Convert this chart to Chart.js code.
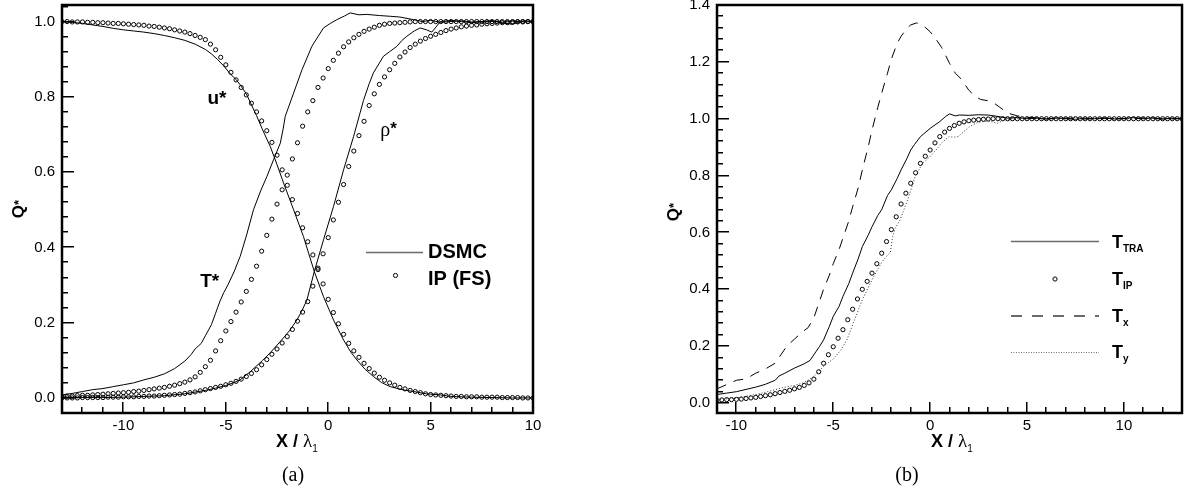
<!DOCTYPE html>
<html>
<head>
<meta charset="utf-8">
<script src="https://cdn.jsdelivr.net/npm/chart.js@4.4.0/dist/chart.umd.min.js"></script>
<style>
    html, body { margin: 0; padding: 0; background: #fff; }
    #wrap { position: relative; width: 1187px; height: 488px; overflow: hidden; }
    canvas { position: absolute; top: 0; }
    #left { left: 0; }
    #right { left: 590px; }
</style>
</head>
<body>
<div id="wrap">
    <canvas id="left" width="560" height="488" style="width:560px;height:488px"></canvas>
    <canvas id="right" width="597" height="488" style="width:597px;height:488px"></canvas>
</div>
<script>
"use strict";

/* ---------- panel (a) ---------- */
var aXTicks = [-10, -5, 0, 5, 10];
var aYTicks = [0, 0.2, 0.4, 0.6, 0.8, 1.0];

// IP (FS) sample positions and values
var aIpX = [
    -13, -12.75, -12.5, -12.25, -12, -11.75, -11.5, -11.25, -11, -10.75, -10.5, -10.25,
    -10, -9.75, -9.5, -9.25, -9, -8.75, -8.5, -8.25, -8, -7.75, -7.5, -7.25,
    -7, -6.75, -6.5, -6.25, -6, -5.75, -5.5, -5.25, -5, -4.75, -4.5, -4.25,
    -4, -3.75, -3.5, -3.25, -3, -2.75, -2.5, -2.25, -2, -1.75, -1.5, -1.25,
    -1, -0.75, -0.5, -0.25, 0, 0.25, 0.5, 0.75, 1, 1.25, 1.5, 1.75,
    2, 2.25, 2.5, 2.75, 3, 3.25, 3.5, 3.75, 4, 4.25, 4.5, 4.75,
    5, 5.25, 5.5, 5.75, 6, 6.25, 6.5, 6.75, 7, 7.25, 7.5, 7.75,
    8, 8.25, 8.5, 8.75, 9, 9.25, 9.5, 9.75, 10
];
var aIpU = [
    1.000, 1.000, 0.999, 0.999, 0.999, 0.998, 0.998, 0.997, 0.997, 0.996, 0.995, 0.995,
    0.994, 0.993, 0.992, 0.991, 0.990, 0.988, 0.987, 0.985, 0.983, 0.981, 0.978, 0.975,
    0.972, 0.968, 0.963, 0.958, 0.952, 0.940, 0.925, 0.905, 0.885, 0.865, 0.845, 0.825,
    0.805, 0.783, 0.760, 0.736, 0.710, 0.679, 0.645, 0.606, 0.565, 0.527, 0.490, 0.452,
    0.415, 0.380, 0.345, 0.303, 0.262, 0.227, 0.197, 0.169, 0.145, 0.125, 0.108, 0.092,
    0.078, 0.066, 0.055, 0.047, 0.040, 0.034, 0.028, 0.024, 0.020, 0.017, 0.014, 0.011,
    0.009, 0.008, 0.007, 0.006, 0.005, 0.004, 0.004, 0.003, 0.003, 0.003, 0.002, 0.002,
    0.002, 0.002, 0.001, 0.001, 0.001, 0.001, 0.000, 0.000, 0.000
];
var aIpT = [
    0.004, 0.005, 0.005, 0.006, 0.007, 0.007, 0.008, 0.009, 0.010, 0.011, 0.012, 0.013,
    0.014, 0.015, 0.017, 0.018, 0.020, 0.022, 0.024, 0.026, 0.028, 0.031, 0.034, 0.038,
    0.042, 0.048, 0.056, 0.068, 0.083, 0.100, 0.125, 0.152, 0.178, 0.203, 0.228, 0.255,
    0.283, 0.315, 0.350, 0.390, 0.432, 0.475, 0.515, 0.553, 0.592, 0.635, 0.678, 0.722,
    0.760, 0.790, 0.825, 0.850, 0.875, 0.897, 0.916, 0.933, 0.946, 0.957, 0.966, 0.974,
    0.980, 0.985, 0.990, 0.993, 0.995, 0.996, 0.997, 0.998, 0.999, 1.000, 1.000, 1.000,
    1.000, 1.000, 1.000, 1.000, 1.000, 1.000, 1.000, 1.000, 1.000, 1.000, 1.000, 1.000,
    1.000, 1.000, 1.000, 1.000, 1.000, 1.000, 1.000, 1.000, 1.000
];
var aIpRho = [
    0.000, 0.000, 0.000, 0.000, 0.001, 0.001, 0.001, 0.001, 0.001, 0.002, 0.002, 0.002,
    0.003, 0.003, 0.003, 0.004, 0.004, 0.005, 0.005, 0.006, 0.007, 0.008, 0.009, 0.010,
    0.012, 0.014, 0.016, 0.019, 0.022, 0.025, 0.028, 0.031, 0.035, 0.039, 0.044, 0.050,
    0.057, 0.065, 0.075, 0.088, 0.102, 0.116, 0.130, 0.146, 0.163, 0.182, 0.204, 0.228,
    0.256, 0.297, 0.341, 0.383, 0.426, 0.473, 0.520, 0.567, 0.615, 0.656, 0.697, 0.735,
    0.777, 0.808, 0.833, 0.853, 0.872, 0.889, 0.906, 0.919, 0.931, 0.940, 0.948, 0.955,
    0.961, 0.966, 0.971, 0.976, 0.980, 0.983, 0.986, 0.988, 0.990, 0.991, 0.993, 0.994,
    0.995, 0.996, 0.997, 0.997, 0.998, 0.999, 0.999, 1.000, 1.000
];

// DSMC curves, [x, value]
var aDsmcU = [
    [-13, 1.0], [-12.5, 0.998], [-12, 0.995], [-11.5, 0.991], [-11, 0.987], [-10.5, 0.982],
    [-10, 0.978], [-9.5, 0.975], [-9, 0.972], [-8.5, 0.968], [-8, 0.963], [-7.5, 0.957],
    [-7, 0.950], [-6.5, 0.940], [-6, 0.926], [-5.7, 0.914], [-5.4, 0.899], [-5.1, 0.882],
    [-4.8, 0.862], [-4.5, 0.846], [-4.3, 0.832], [-4, 0.808], [-3.5, 0.750], [-3.2, 0.712],
    [-2.83, 0.668], [-2.5, 0.620], [-2.18, 0.571], [-1.69, 0.500], [-1.21, 0.429],
    [-0.68, 0.336], [-0.23, 0.269], [0.26, 0.207], [0.75, 0.154], [1.1, 0.122], [1.4, 0.101],
    [1.8, 0.076], [2.21, 0.057], [2.6, 0.041], [3.03, 0.030], [3.6, 0.022], [4.17, 0.017],
    [4.8, 0.011], [5.47, 0.008], [6, 0.004], [7, 0.002], [8, 0.001], [9, 0.0], [10, 0.0]
];
var aDsmcT = [
    [-13, 0.008], [-12.5, 0.012], [-12, 0.017], [-11.5, 0.022], [-11, 0.025], [-10.5, 0.030],
    [-10, 0.035], [-9.5, 0.040], [-9, 0.048], [-8.5, 0.055], [-8, 0.064], [-7.5, 0.078],
    [-7, 0.098], [-6.7, 0.115], [-6.5, 0.130], [-6.2, 0.145], [-6, 0.165], [-5.7, 0.195],
    [-5.5, 0.225], [-5.3, 0.255], [-5.1, 0.280], [-4.9, 0.300], [-4.6, 0.335], [-4.3, 0.376],
    [-4, 0.430], [-3.65, 0.500], [-3.3, 0.550], [-2.99, 0.589], [-2.67, 0.633], [-2.34, 0.677],
    [-2.2, 0.715], [-2.1, 0.748], [-1.69, 0.810], [-1.28, 0.872], [-0.8, 0.934], [-0.5, 0.960],
    [-0.23, 0.983], [0.1, 0.995], [0.42, 1.005], [0.8, 1.015], [1.07, 1.023], [1.5, 1.018],
    [1.89, 1.019], [2.5, 1.016], [3.03, 1.014], [3.5, 1.012], [4.17, 1.005], [4.6, 1.000],
    [5, 1.003], [5.5, 0.998], [6, 1.000], [6.5, 1.002], [7, 0.999], [7.5, 1.000], [8, 1.002],
    [8.5, 0.998], [9, 1.001], [9.5, 0.999], [10, 1.000]
];
var aDsmcRho = [
    [-13, 0.0], [-12, 0.001], [-11, 0.001], [-10, 0.002], [-9, 0.004], [-8, 0.006], [-7, 0.011],
    [-6, 0.020], [-5.5, 0.026], [-5, 0.033], [-4.6, 0.041], [-4.3, 0.048], [-3.8, 0.070],
    [-3.2, 0.100], [-2.8, 0.122], [-2.34, 0.150], [-1.9, 0.178], [-1.53, 0.207], [-1.3, 0.230],
    [-1.04, 0.260], [-0.68, 0.336], [-0.23, 0.420], [0.26, 0.509], [0.75, 0.606], [1.24, 0.695],
    [1.72, 0.790], [2.0, 0.835], [2.21, 0.864], [2.5, 0.890], [2.7, 0.908], [3.0, 0.920],
    [3.35, 0.934], [3.6, 0.950], [3.84, 0.961], [4.2, 0.975], [4.49, 0.983], [4.8, 0.978],
    [5.06, 0.972], [5.3, 0.988], [5.47, 1.000], [6, 1.003], [6.5, 1.000], [7, 0.997],
    [7.5, 1.000], [8, 1.002], [8.5, 0.996], [9, 0.993], [9.3, 0.998], [9.6, 1.002], [10, 1.000]
];

/* ---------- panel (b) ---------- */
var bXTicks = [-10, -5, 0, 5, 10];
var bYTicks = [0, 0.2, 0.4, 0.6, 0.8, 1.0, 1.2, 1.4];

var bIpX = [
    -11, -10.75, -10.5, -10.25, -10, -9.75, -9.5, -9.25, -9, -8.75, -8.5, -8.25,
    -8, -7.75, -7.5, -7.25, -7, -6.75, -6.5, -6.25, -6, -5.75, -5.5, -5.25,
    -5, -4.75, -4.5, -4.25, -4, -3.75, -3.5, -3.25, -3, -2.75, -2.5, -2.25,
    -2, -1.75, -1.5, -1.25, -1, -0.75, -0.5, -0.25, 0, 0.25, 0.5, 0.75,
    1, 1.25, 1.5, 1.75, 2, 2.25, 2.5, 2.75, 3, 3.25, 3.5, 3.75,
    4, 4.25, 4.5, 4.75, 5, 5.25, 5.5, 5.75, 6, 6.25, 6.5, 6.75,
    7, 7.25, 7.5, 7.75, 8, 8.25, 8.5, 8.75, 9, 9.25, 9.5, 9.75,
    10, 10.25, 10.5, 10.75, 11, 11.25, 11.5, 11.75, 12, 12.25, 12.5, 12.75,
    13
];
var bIpT = [
    0.010, 0.011, 0.012, 0.012, 0.013, 0.014, 0.016, 0.018, 0.020, 0.023, 0.026, 0.029,
    0.033, 0.037, 0.041, 0.045, 0.050, 0.055, 0.062, 0.071, 0.084, 0.110, 0.140, 0.170,
    0.198, 0.228, 0.258, 0.293, 0.330, 0.366, 0.400, 0.428, 0.457, 0.490, 0.527, 0.568,
    0.610, 0.655, 0.700, 0.738, 0.773, 0.810, 0.843, 0.868, 0.890, 0.915, 0.937, 0.953,
    0.966, 0.976, 0.984, 0.989, 0.993, 0.995, 0.997, 0.998, 0.999, 1.000, 1.000, 1.000,
    1.000, 1.000, 1.000, 1.000, 1.000, 1.000, 1.000, 1.000, 1.000, 1.000, 1.000, 1.000,
    1.000, 1.000, 1.000, 1.000, 1.000, 1.000, 1.000, 1.000, 1.000, 1.000, 1.000, 1.000,
    1.000, 1.000, 1.000, 1.000, 1.000, 1.000, 1.000, 1.000, 1.000, 1.000, 1.000, 1.000,
    1.000
];
var bTra = [
    [-11, 0.030], [-10.5, 0.035], [-10, 0.040], [-9.5, 0.048], [-9, 0.056], [-8.5, 0.066],
    [-8, 0.080], [-7.8, 0.095], [-7.5, 0.105], [-7, 0.123], [-6.5, 0.138], [-6.2, 0.150],
    [-6, 0.170], [-5.7, 0.200], [-5.5, 0.222], [-5.2, 0.270], [-5, 0.305], [-4.7, 0.340],
    [-4.5, 0.375], [-4.2, 0.420], [-4, 0.457], [-3.7, 0.510], [-3.5, 0.550], [-3.2, 0.590],
    [-3, 0.620], [-2.7, 0.660], [-2.5, 0.680], [-2.2, 0.730], [-2, 0.750], [-1.7, 0.790],
    [-1.5, 0.820], [-1.2, 0.860], [-1, 0.890], [-0.8, 0.910], [-0.5, 0.937], [0, 0.966],
    [0.5, 0.990], [0.8, 1.008], [1, 1.017], [1.3, 1.010], [1.5, 1.013], [2, 1.012],
    [2.5, 1.014], [3, 1.013], [3.5, 1.008], [4, 1.002], [4.5, 1.004], [5, 1.000],
    [5.5, 1.002], [6, 0.999], [6.5, 1.003], [7, 1.000], [7.5, 0.998], [8, 1.002],
    [8.5, 1.000], [9, 1.003], [9.5, 0.999], [10, 1.001], [10.5, 1.004], [11, 1.000],
    [11.5, 1.003], [12, 0.999], [12.5, 1.002], [13, 1.000]
];
var bTx = [
    [-11, 0.050], [-10.5, 0.065], [-10, 0.080], [-9.5, 0.085], [-9, 0.105], [-8.5, 0.120],
    [-8, 0.140], [-7.7, 0.170], [-7.4, 0.200], [-7, 0.225], [-6.6, 0.250], [-6.3, 0.265],
    [-6, 0.300], [-5.7, 0.360], [-5.5, 0.400], [-5.2, 0.450], [-5, 0.490], [-4.7, 0.540],
    [-4.5, 0.580], [-4.2, 0.640], [-4, 0.690], [-3.7, 0.760], [-3.5, 0.820], [-3.2, 0.900],
    [-3, 0.960], [-2.7, 1.040], [-2.5, 1.090], [-2.2, 1.160], [-2, 1.210], [-1.7, 1.265],
    [-1.5, 1.290], [-1.2, 1.318], [-1, 1.330], [-0.7, 1.337], [-0.4, 1.330], [0, 1.306],
    [0.3, 1.280], [0.6, 1.250], [1, 1.195], [1.3, 1.160], [1.6, 1.140], [2, 1.100],
    [2.3, 1.080], [2.6, 1.068], [3, 1.063], [3.3, 1.055], [3.6, 1.040], [4, 1.020],
    [4.5, 1.010], [5, 1.005], [5.5, 1.003], [6, 1.000], [7, 1.002], [8, 0.999], [9, 1.001],
    [10, 1.000], [11, 1.002], [12, 0.999], [13, 1.000]
];
var bTy = [
    [-11, 0.012], [-10.5, 0.015], [-10, 0.018], [-9.5, 0.024], [-9, 0.030], [-8.5, 0.038],
    [-8, 0.047], [-7.5, 0.056], [-7, 0.062], [-6.5, 0.072], [-6, 0.094], [-5.5, 0.129],
    [-5, 0.155], [-4.6, 0.187], [-4.3, 0.222], [-3.9, 0.293], [-3.5, 0.363], [-3, 0.433],
    [-2.5, 0.495], [-2.2, 0.520], [-2.05, 0.530], [-1.95, 0.580], [-1.8, 0.615], [-1.55, 0.644],
    [-1.16, 0.715], [-0.77, 0.797], [-0.39, 0.843], [0, 0.867], [0.3, 0.890], [0.58, 0.914],
    [0.97, 0.937], [1.2, 0.935], [1.45, 0.937], [1.74, 0.955], [2.03, 0.972], [2.4, 0.985],
    [2.7, 0.990], [3.1, 0.990], [3.48, 0.984], [3.8, 0.995], [4.2, 1.000], [5, 1.003],
    [6, 0.998], [7, 1.002], [7.5, 1.006], [8, 1.000], [9, 1.002], [10, 0.999], [11, 1.005],
    [12, 1.000], [13, 1.001]
];

var SANS = '"Liberation Sans", Arial, sans-serif';
var SERIF = '"Liberation Serif", "Times New Roman", serif';

function pairs(list) {
    return list.map(function (p) { return { x: p[0], y: p[1] }; });
}
function zip(xs, ys) {
    return xs.map(function (x, i) { return { x: x, y: ys[i] }; });
}
function lineSet(data, dash, color) {
    return { data: data, borderColor: color || '#000', borderWidth: 1, borderDash: dash || [],
        pointRadius: 0, tension: 0, fill: false };
}
function markSet(data) {
    return { data: data, showLine: false, pointRadius: 2.1, pointBorderWidth: 1,
        pointBorderColor: '#000', pointBackgroundColor: 'rgba(255,255,255,0)' };
}

// text with mixed fonts; parts = [text, font, dy]
function rich(ctx, parts, x, y, align) {
    var w = 0;
    parts.forEach(function (p) { ctx.font = p[1]; w += ctx.measureText(p[0]).width; });
    var cx = align === 'center' ? x - w / 2 : x;
    ctx.textAlign = 'left';
    ctx.textBaseline = 'alphabetic';
    ctx.fillStyle = '#000';
    parts.forEach(function (p) {
        ctx.font = p[1];
        ctx.fillText(p[0], cx, y + (p[2] || 0));
        cx += ctx.measureText(p[0]).width;
    });
}
function qLabel(ctx, x, y) {
    ctx.save();
    ctx.translate(x, y);
    ctx.rotate(-Math.PI / 2);
    rich(ctx, [['Q', 'bold 17px ' + SANS], ['*', 'bold 13px ' + SANS, -1]], 0, 6, 'center');
    ctx.restore();
}
function xLabel(ctx, x, y) {
    rich(ctx, [['X / ', 'bold 18px ' + SANS], ['\u03bb', '19px ' + SERIF], ['1', '10px ' + SANS, 5]], x, y, 'center');
}
function legLine(ctx, x1, x2, y, dash, width) {
    ctx.save();
    ctx.strokeStyle = '#6a6a6a';
    ctx.lineWidth = width;
    ctx.setLineDash(dash);
    ctx.beginPath();
    ctx.moveTo(x1, y);
    ctx.lineTo(x2, y);
    ctx.stroke();
    ctx.restore();
}
function legDot(ctx, x, y) {
    ctx.save();
    ctx.strokeStyle = '#000';
    ctx.lineWidth = 1;
    ctx.beginPath();
    ctx.arc(x, y, 2.1, 0, Math.PI * 2);
    ctx.stroke();
    ctx.restore();
}

// inner tick marks; counts come from the panel's own axis limits
function innerTicks(ctx, chart, c) {
    var xs = chart.scales.x, ys = chart.scales.y, a = chart.chartArea;
    var i, p, len;
    var iy0 = Math.ceil(c.yMin * 25 - 1e-6), iy1 = Math.floor(c.yMax * 25 + 1e-6);
    var ix0 = Math.ceil(c.xMin - 1e-6), ix1 = Math.floor(c.xMax + 1e-6);
    ctx.save();
    ctx.fillStyle = '#000';
    for (i = iy0; i <= iy1; i++) {
        p = Math.round(ys.getPixelForValue(i / 25));
        len = (i % 5 === 0) ? 12 : 6;
        ctx.fillRect(a.left, p - 1, len, 1.5);
    }
    for (i = ix0; i <= ix1; i++) {
        p = Math.round(xs.getPixelForValue(i));
        len = (i % 5 === 0) ? 11 : 6;
        ctx.fillRect(p - 1, a.bottom - len, 1.5, len);
    }
    ctx.restore();
}

/* frame, ticks and annotations for one panel */
function framePlugin(c) {
    return {
        id: 'frame',
        afterDraw: function (chart) {
            var ctx = chart.ctx, a = chart.chartArea;
            ctx.save();
            ctx.strokeStyle = '#000';
            ctx.setLineDash([]);
            ctx.lineWidth = 2.5;
            ctx.strokeRect(a.left, a.top, a.right - a.left, a.bottom - a.top);
            ctx.restore();
            c.draw(ctx, chart);
            innerTicks(ctx, chart, c);
        }
    };
}

function makePanel(id, c) {
    var fontTick = { family: SANS, size: 15 };
    return new Chart(document.getElementById(id), {
        type: 'line',
        data: { datasets: c.datasets },
        options: {
            responsive: false,
            animation: false,
            devicePixelRatio: 1,
            layout: { padding: c.padding },
            plugins: {
                legend: { display: false },
                tooltip: { enabled: false }
            },
            scales: {
                x: {
                    type: 'linear', min: c.xMin, max: c.xMax,
                    grid: { display: false, drawTicks: false }, border: { display: false },
                    afterBuildTicks: function (s) { s.ticks = c.xTicks.map(function (v) { return { value: v }; }); },
                    afterFit: function (s) { s.height = 75; s.paddingLeft = 0; s.paddingRight = 0; },
                    ticks: { font: fontTick, color: '#000', padding: 4, maxRotation: 0, autoSkip: false,
                        callback: function (v) { return String(v); } }
                },
                y: {
                    type: 'linear', min: c.yMin, max: c.yMax,
                    grid: { display: false, drawTicks: false }, border: { display: false },
                    afterBuildTicks: function (s) { s.ticks = c.yTicks.map(function (v) { return { value: v }; }); },
                    afterFit: function (s) { s.width = c.yWidth; s.paddingTop = 0; s.paddingBottom = 0; },
                    ticks: { font: fontTick, color: '#000', padding: 7, autoSkip: false,
                        callback: function (v) { return v.toFixed(1); } }
                }
            }
        },
        plugins: [framePlugin(c)]
    });
}

makePanel('left', {
    xMin: -13, xMax: 10, yMin: -0.04, yMax: 1.044,
    xTicks: aXTicks, yTicks: aYTicks, yWidth: 62,
    padding: { left: 0, top: 5, right: 27, bottom: 0 },
    datasets: [
        lineSet(pairs(aDsmcU)), lineSet(pairs(aDsmcT)), lineSet(pairs(aDsmcRho)),
        markSet(zip(aIpX, aIpU)), markSet(zip(aIpX, aIpT)), markSet(zip(aIpX, aIpRho))
    ],
    draw: function (ctx, chart) {
        var xs = chart.scales.x, ys = chart.scales.y;
        rich(ctx, [['u*', 'bold 19px ' + SANS]], xs.getPixelForValue(-5.9), ys.getPixelForValue(0.782));
        rich(ctx, [['T*', 'bold 19px ' + SANS]], xs.getPixelForValue(-6.25), ys.getPixelForValue(0.295));
        rich(ctx, [['\u03c1', '20px ' + SERIF], ['*', 'bold 17px ' + SANS, -2]], xs.getPixelForValue(2.54), ys.getPixelForValue(0.697));
        legLine(ctx, 366, 423, 252.5, [], 1.5);
        rich(ctx, [['DSMC', 'bold 20px ' + SANS]], 428, 258);
        legDot(ctx, 395.5, 275.5);
        rich(ctx, [['IP (FS)', 'bold 20px ' + SANS]], 428, 285);
        qLabel(ctx, 18, 209);
        xLabel(ctx, 297, 447);
        rich(ctx, [['(a)', '20px ' + SERIF]], 293, 481, 'center');
    }
});

makePanel('right', {
    xMin: -11, xMax: 13, yMin: -0.035, yMax: 1.4,
    xTicks: bXTicks, yTicks: bYTicks, yWidth: 127,
    padding: { left: 0, top: 5, right: 1, bottom: 0 },
    datasets: [
        lineSet(pairs(bTra)), lineSet(pairs(bTx), [10, 8]), lineSet(pairs(bTy), [1, 2], '#333'),
        markSet(zip(bIpX, bIpT))
    ],
    draw: function (ctx) {
        legLine(ctx, 421, 509, 241.5, [], 1.5);
        rich(ctx, [['T', 'bold 18px ' + SANS], ['TRA', 'bold 10px ' + SANS, 4]], 522, 248);
        legDot(ctx, 465, 279);
        rich(ctx, [['T', 'bold 18px ' + SANS], ['IP', 'bold 10px ' + SANS, 4]], 522, 285);
        legLine(ctx, 421, 509, 316, [11, 10], 2);
        rich(ctx, [['T', 'bold 18px ' + SANS], ['x', 'bold 10px ' + SANS, 4]], 522, 322);
        legLine(ctx, 421, 509, 352.5, [1, 1.5], 1);
        rich(ctx, [['T', 'bold 18px ' + SANS], ['y', 'bold 10px ' + SANS, 4]], 522, 358);
        qLabel(ctx, 83, 212);
        xLabel(ctx, 362, 447);
        rich(ctx, [['(b)', '20px ' + SERIF]], 317, 481, 'center');
    }
});
</script>
</body>
</html>
